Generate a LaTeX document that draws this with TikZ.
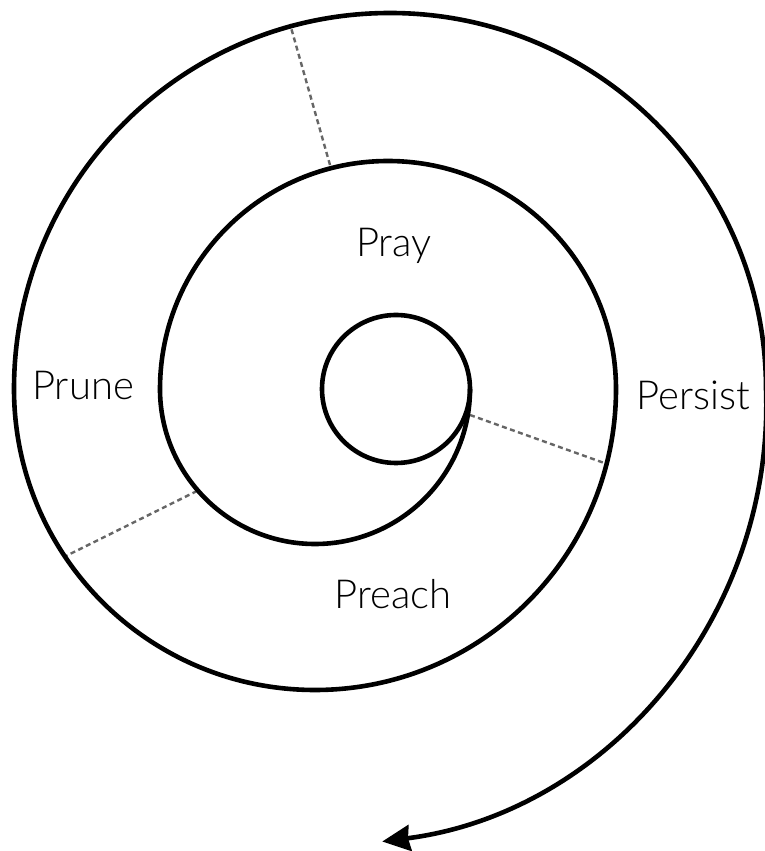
\documentclass[tikz,border=0pt]{standalone}
\usepackage{fontspec}
\setmainfont{Lato Light}
\usetikzlibrary{arrows.meta}
\definecolor{divgray}{HTML}{666666}
\begin{document}
\begin{tikzpicture}[x=1pt,y=1pt,
  spiral/.style={line width=4.6pt, black},
  divider/.style={line width=2.4pt, color=divgray, dash pattern=on 5pt off 3.5pt},
  steplabel/.style={anchor=base, font=\fontsize{40}{48}\selectfont, inner sep=0pt, text=black}]
\useasboundingbox (0,0) rectangle (764,851);
\fill[white] (0,0) rectangle (764,851);
% divider coordinates
\coordinate (t1) at (330,686); \coordinate (t2) at (290,827);
\coordinate (r1) at (470,436); \coordinate (r2) at (607,387);
\coordinate (l1) at (197,360); \coordinate (l2) at (66,295);
\draw[divider] (t1) -- (t2);
\draw[divider] (r1) -- (r2);
\draw[divider] (l1) -- (l2);
% inner circle
\draw[spiral] (396,462) circle[radius=74];
% spiral
\coordinate (s0) at (470,462);
\draw[spiral, -{Stealth[length=28pt,width=26pt,inset=2pt,fill=black]}] (s0)
  arc[start angle=0,end angle=-180,radius=155]
  arc[start angle=180,end angle=0,radius=228]
  arc[start angle=0,end angle=-180,radius=301]
  arc[start angle=180,end angle=0,radius=376]
  arc[start angle=2.1,end angle=-82.7,radius=440];
% labels
\node[steplabel] (pray) at (394,594) {Pray};
\node[steplabel] (prune) at (83,451) {Prune};
\node[steplabel] (persist) at (693,441) {Persist};
\node[steplabel] (preach) at (393,242) {Preach};
\end{tikzpicture}
\end{document}
